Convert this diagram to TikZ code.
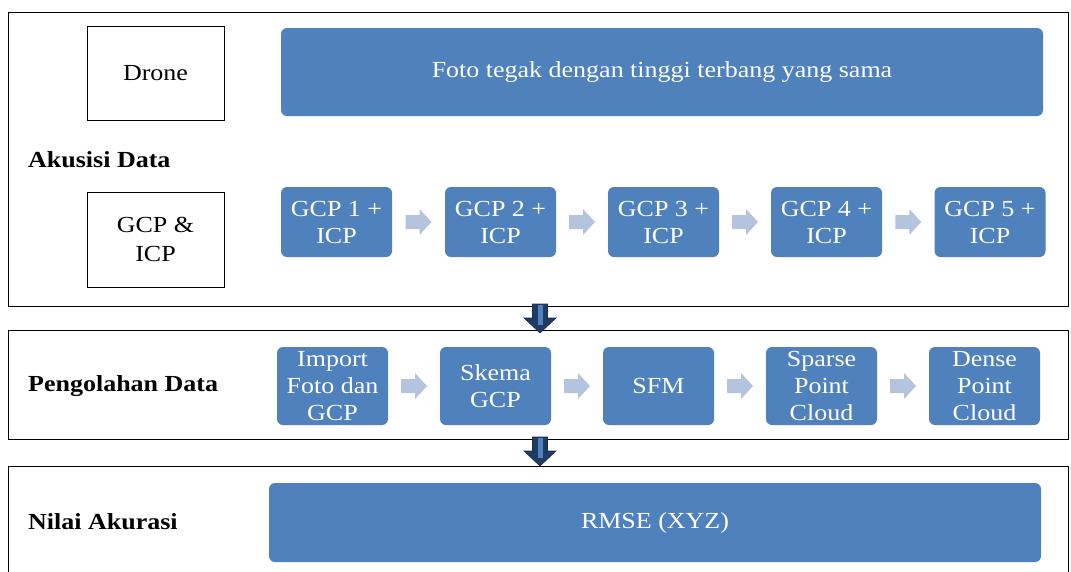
\documentclass[tikz,border=0pt]{standalone}
\usepackage{fontspec}
\setmainfont[FakeStretch=1.13]{Liberation Serif}
\usetikzlibrary{calc}
\definecolor{blu}{HTML}{4F81BD}
\definecolor{larr}{HTML}{B4C4DF}
\definecolor{darr}{HTML}{1F3B63}
\tikzset{
  outerbox/.style={draw=black, line width=1pt, inner sep=0, outer sep=0},
  plainbox/.style={draw=black, line width=0.9pt, align=center, inner sep=0, outer sep=0,
    font=\fontsize{23}{29}\selectfont},
  bluebox/.style={fill=blu, rounded corners=6pt, text=white, align=center, inner sep=0, outer sep=0,
    font=\fontsize{23}{27}\selectfont},
  sectlabel/.style={font=\fontsize{23}{27}\selectfont\bfseries, anchor=west, inner sep=0},
  larrow/.pic={\fill[larr] (-13,-7) -- (1,-7) -- (1,-13) -- (13,0) -- (1,13) -- (1,7) -- (-13,7) -- cycle;},
  darrow/.pic={
    \filldraw[fill=darr, draw=darr!80!black, line width=0.6pt]
      (-7.5,-2) -- (7.5,-2) -- (7.5,12) -- (16,12) -- (0,27) -- (-16,12) -- (-7.5,12) -- cycle;
    \fill[blu] (-2.5,-1) rectangle (2.5,19);
  }
}
\begin{document}
\begin{tikzpicture}[x=1pt,y=-1pt]
\useasboundingbox (0,0) rectangle (1071,571);
\clip (0,0) rectangle (1071,571);
\fill[white] (0,0) rectangle (1071,571);

% section frames
\node[outerbox, minimum width=1060, minimum height=294] (A) at (538,159) {};
\node[outerbox, minimum width=1060, minimum height=109] (B) at (538,384.5) {};
\node[outerbox, minimum width=1060, minimum height=134] (C) at (538,533) {};

% section labels
\node[sectlabel] (la) at (28,160) {Akusisi Data};
\node[sectlabel] (lb) at (28,386) {Pengolahan Data};
\node[sectlabel] (lc) at (28,522) {Nilai Akurasi};

% Akusisi
\node[plainbox, minimum width=137, minimum height=94] (drone) at (155.5,73) {Drone};
\node[plainbox, minimum width=137, minimum height=95] (gcpicp) at (155.5,239.5) {GCP \&\\ICP};
\node[bluebox, minimum width=762, minimum height=88] (foto) at (662,72) {Foto tegak dengan tinggi terbang yang sama};

\foreach \i/\x in {1/336.5,2/500.5,3/663.5,4/826.5,5/990}
  \node[bluebox, minimum width=111, minimum height=70] (g\i) at (\x,222) {GCP \i\ +\\ICP};
\foreach \a/\b in {g1/g2,g2/g3,g3/g4,g4/g5}
  \pic at ($(\a.east)!0.5!(\b.west)$) {larrow};

% Pengolahan
\node[bluebox, minimum width=111, minimum height=78] (p1) at (332.5,386) {Import\\Foto dan\\GCP};
\node[bluebox, minimum width=111, minimum height=78] (p2) at (495.5,386) {Skema\\GCP};
\node[bluebox, minimum width=111, minimum height=78] (p3) at (658.5,386) {SFM};
\node[bluebox, minimum width=111, minimum height=78] (p4) at (821.5,386) {Sparse\\Point\\Cloud};
\node[bluebox, minimum width=111, minimum height=78] (p5) at (984.5,386) {Dense\\Point\\Cloud};
\foreach \a/\b in {p1/p2,p2/p3,p3/p4,p4/p5}
  \pic at ($(\a.east)!0.5!(\b.west)$) {larrow};

% Nilai
\node[bluebox, minimum width=772, minimum height=79] (rmse) at (655,522.5) {RMSE (XYZ)};

% section arrows
\pic at ($(A.south)+(2,0)$) {darrow};
\pic at ($(B.south)+(2,0)$) {darrow};
\end{tikzpicture}
\end{document}
